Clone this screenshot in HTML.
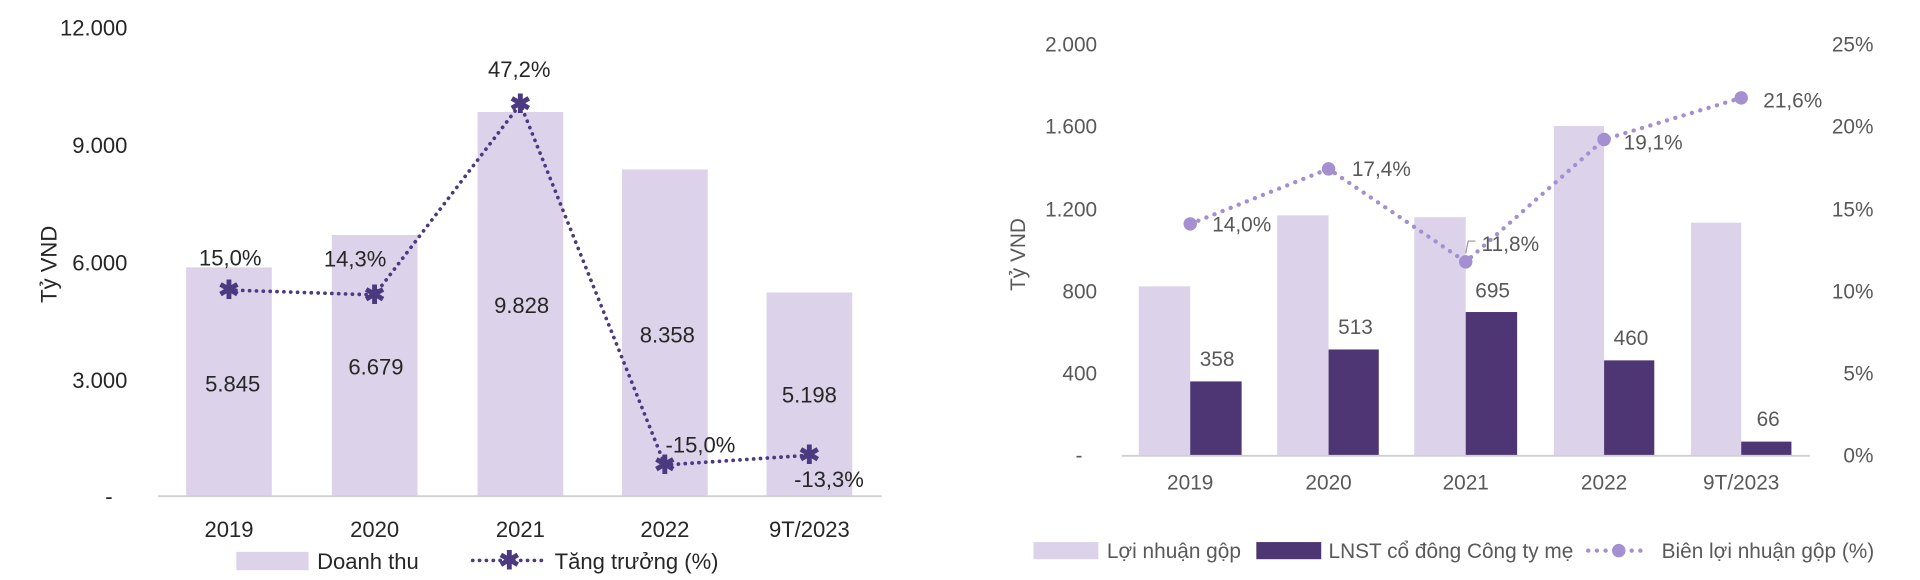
<!DOCTYPE html>
<html><head><meta charset="utf-8"><style>
html,body{margin:0;padding:0;background:#fff;}
svg{display:block;}
text{font-family:"Liberation Sans",sans-serif;}
</style></head><body>
<svg width="1920" height="580" viewBox="0 0 1568 474" preserveAspectRatio="none" xmlns="http://www.w3.org/2000/svg">
<rect width="1568" height="474" fill="#fff"/>
<!-- LEFT CHART -->
<g font-size="18" fill="#262626">
<g text-anchor="end">
<text x="104" y="29">12.000</text>
<text x="104" y="125">9.000</text>
<text x="104" y="221">6.000</text>
<text x="104" y="317">3.000</text>
<text x="92" y="412">-</text>
</g>
<text transform="translate(46,216) rotate(-90)" text-anchor="middle">Tỷ VND</text>
<g fill="#dcd3ea">
<rect x="152" y="218.5" width="70" height="186.5"/>
<rect x="271" y="192" width="70" height="213"/>
<rect x="390" y="91.5" width="70" height="313.5"/>
<rect x="508" y="138.5" width="70" height="266.5"/>
<rect x="626" y="239" width="70" height="166"/>
</g>
<line x1="129" y1="405.5" x2="720" y2="405.5" stroke="#d0d0d0" stroke-width="1.5"/>
<polyline points="187,237 306,241 425,85 543,380 661,372" fill="none" stroke="#4b3a80" stroke-width="3" stroke-dasharray="0.1 5.5" stroke-linecap="round"/>
<g fill="#4b3a80" font-size="21" text-anchor="middle" font-weight="bold">
<text x="187" y="244">✱</text><text x="306" y="248">✱</text><text x="425" y="92">✱</text><text x="543" y="387">✱</text><text x="661" y="379">✱</text>
</g>
<g text-anchor="middle">
<text x="188" y="217">15,0%</text>
<text x="290" y="218">14,3%</text>
<text x="424" y="63">47,2%</text>
<text x="572" y="370">-15,0%</text>
<text x="677" y="398">-13,3%</text>
<text x="190" y="320">5.845</text>
<text x="307" y="306">6.679</text>
<text x="426" y="256">9.828</text>
<text x="545" y="280">8.358</text>
<text x="661" y="329">5.198</text>
<text x="187" y="439">2019</text>
<text x="306" y="439">2020</text>
<text x="425" y="439">2021</text>
<text x="543" y="439">2022</text>
<text x="661" y="439">9T/2023</text>
</g>
<rect x="193" y="451" width="59" height="15" fill="#dcd3ea"/>
<text x="259" y="465">Doanh thu</text>
<line x1="386" y1="458" x2="443" y2="458" stroke="#4b3a80" stroke-width="3" stroke-dasharray="0.1 5.5" stroke-linecap="round"/>
<text x="416" y="465" fill="#4b3a80" font-size="21" font-weight="bold" text-anchor="middle">✱</text>
<text x="453" y="465">Tăng trưởng (%)</text>
</g>
<!-- RIGHT CHART -->
<g font-size="17" fill="#595959">
<g text-anchor="end">
<text x="896" y="42">2.000</text>
<text x="896" y="109">1.600</text>
<text x="896" y="177">1.200</text>
<text x="896" y="244">800</text>
<text x="896" y="311">400</text>
<text x="884" y="378">-</text>
</g>
<g text-anchor="end">
<text x="1530" y="42">25%</text>
<text x="1530" y="109">20%</text>
<text x="1530" y="177">15%</text>
<text x="1530" y="244">10%</text>
<text x="1530" y="311">5%</text>
<text x="1530" y="378">0%</text>
</g>
<text transform="translate(837,208) rotate(-90)" text-anchor="middle">Tỷ VND</text>
<g fill="#dcd3ea">
<rect x="930" y="234" width="42" height="138"/>
<rect x="1043" y="176" width="42" height="196"/>
<rect x="1155" y="177.5" width="42" height="194.5"/>
<rect x="1269" y="103" width="41" height="269"/>
<rect x="1381" y="182" width="41" height="190"/>
</g>
<g fill="#4e3674">
<rect x="972" y="311.7" width="42" height="60.3"/>
<rect x="1085" y="285.6" width="41" height="86.4"/>
<rect x="1197" y="255" width="42" height="117"/>
<rect x="1310" y="294.5" width="41" height="77.5"/>
<rect x="1422" y="360.9" width="41" height="11.1"/>
</g>
<line x1="916" y1="372.5" x2="1478" y2="372.5" stroke="#d0d0d0" stroke-width="1.5"/>
<polyline points="972,183 1085,138 1197,214 1310,114 1422,80" fill="none" stroke="#a48fd0" stroke-width="3.5" stroke-dasharray="0.1 7" stroke-linecap="round"/>
<g fill="#a48fd0">
<circle cx="972" cy="183" r="5.5"/><circle cx="1085" cy="138" r="5.5"/><circle cx="1197" cy="214" r="5.5"/><circle cx="1310" cy="114" r="5.5"/><circle cx="1422" cy="80" r="5.5"/>
</g>
<polyline points="1197,207 1199,197 1205,197" fill="none" stroke="#999" stroke-width="1"/>
<text x="990" y="189">14,0%</text>
<text x="1104" y="144">17,4%</text>
<text x="1210" y="205">11,8%</text>
<text x="1326" y="122">19,1%</text>
<text x="1440" y="88">21,6%</text>
<g text-anchor="middle">
<text x="994" y="299">358</text>
<text x="1107" y="273">513</text>
<text x="1219" y="243">695</text>
<text x="1332" y="282">460</text>
<text x="1444" y="348">66</text>
<text x="972" y="400">2019</text>
<text x="1085" y="400">2020</text>
<text x="1197" y="400">2021</text>
<text x="1310" y="400">2022</text>
<text x="1422" y="400">9T/2023</text>
</g>
<rect x="844" y="443" width="53" height="14" fill="#dcd3ea"/>
<text x="904" y="456">Lợi nhuận gộp</text>
<rect x="1026" y="443" width="53" height="14" fill="#4e3674"/>
<text x="1085" y="456">LNST cổ đông Công ty mẹ</text>
<line x1="1297" y1="450" x2="1346" y2="450" stroke="#a48fd0" stroke-width="3.5" stroke-dasharray="0.1 7" stroke-linecap="round"/>
<circle cx="1322" cy="450" r="5.5" fill="#a48fd0"/>
<text x="1357" y="456">Biên lợi nhuận gộp (%)</text>
</g>
</svg>
</body></html>
